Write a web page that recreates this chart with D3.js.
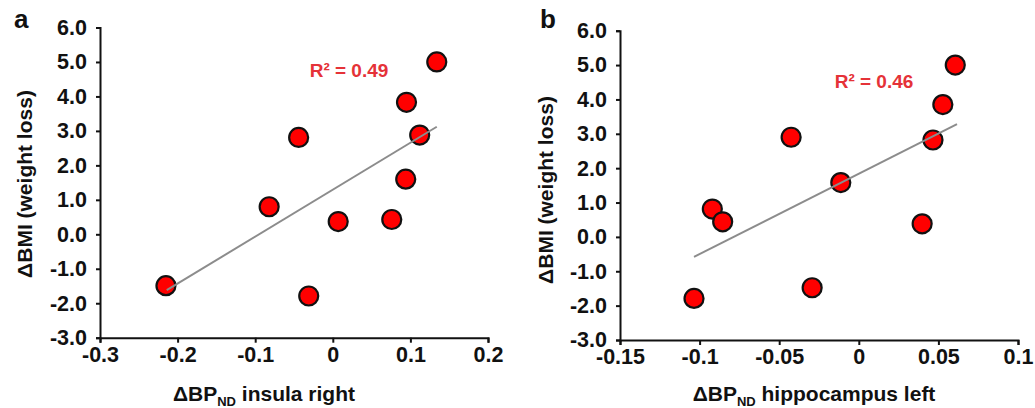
<!DOCTYPE html>
<html>
  <head>
    <meta charset="utf-8">
    <title>BMI change vs BP_ND</title>
    <script src="https://d3js.org/d3.v7.min.js"></script>
    <style>
      body { margin: 0; background: #fff; }
      svg { display: block; font-family: "Liberation Sans", Arial, sans-serif; font-weight: bold; }
      .axis path, .axis line { stroke: #111; stroke-width: 2; }
      .axis text { font-size: 21.5px; font-weight: bold; fill: #111; font-family: "Liberation Sans", Arial, sans-serif; }
      .title { font-size: 21px; fill: #111; }
      .panel { font-size: 26px; fill: #111; }
      .r2 { font-size: 19px; fill: #e53238; }
      .fit { stroke: #8c8c8c; stroke-width: 2; fill: none; }
      .dot { fill: #f00; stroke: #111; stroke-width: 2.2; }
    </style>
  </head>
  <body>
    <svg id="chart" width="1035" height="408"></svg>
    <script>
      // panel a: insula right
      const xA = [-0.215, -0.082, -0.044, -0.031, 0.007, 0.076, 0.094, 0.095, 0.112, 0.134];
      const yA = [-1.49, 0.80, 2.81, -1.79, 0.37, 0.43, 1.60, 3.83, 2.88, 5.00];
      const fitXA = [-0.214, 0.134];
      const fitYA = [-1.62, 3.12];
      const xTicksA = [-0.3, -0.2, -0.1, 0, 0.1, 0.2];
      // panel b: hippocampus left
      const xB = [-0.1035, -0.092, -0.0855, -0.0425, -0.0293, -0.0113, 0.0398, 0.0466, 0.0528, 0.0606];
      const yB = [-1.79, 0.81, 0.44, 2.90, -1.48, 1.58, 0.38, 2.82, 3.85, 5.00];
      const fitXB = [-0.1035, 0.0617];
      const fitYB = [-0.58, 3.28];
      const xTicksB = [-0.15, -0.1, -0.05, 0, 0.05, 0.1];
      // shared y axis
      const yTicks = [-3, -2, -1, 0, 1, 2, 3, 4, 5, 6];
      const yLabel = "ΔBMI (weight loss)";

      const panels = [
        { tag: "a", xs: xA, ys: yA, fitX: fitXA, fitY: fitYA, xTicks: xTicksA, region: "insula right", r2: "R² = 0.49",
          left: 100, right: 488, top: 27.5, bottom: 337.7, titleX: 264, yTitleX: 25, yTitleY: 184, r2X: 349, r2Y: 70, tagX: 14 },
        { tag: "b", xs: xB, ys: yB, fitX: fitXB, fitY: fitYB, xTicks: xTicksB, region: "hippocampus left", r2: "R² = 0.46",
          left: 620, right: 1018, top: 30.7, bottom: 340, titleX: 814, yTitleX: 546, yTitleY: 190, r2X: 874, r2Y: 81, tagX: 540 }
      ];

      const chart = d3.select("#chart");

      panels.forEach(function(p) {
        const g = chart.append("g");
        const x = d3.scaleLinear()
          .domain(d3.extent(p.xTicks))
          .range([p.left, p.right]);
        const y = d3.scaleLinear()
          .domain(d3.extent(yTicks))
          .range([p.bottom, p.top]);

        g.append("g")
          .attr("class", "axis")
          .attr("transform", "translate(0," + p.bottom + ")")
          .call(d3.axisBottom(x).tickValues(p.xTicks).tickFormat(function(d) { return String(d); })
            .tickSizeOuter(0).tickSize(5).tickPadding(4));
        g.append("g")
          .attr("class", "axis")
          .attr("transform", "translate(" + p.left + ",0)")
          .call(d3.axisLeft(y).tickValues(yTicks).tickFormat(function(d) { return d.toFixed(1); })
            .tickSizeOuter(0).tickSize(4).tickPadding(9));

        // points
        g.append("g").selectAll("circle")
          .data(p.xs.map(function(d, i) { return [d, p.ys[i]]; }))
          .join("circle")
            .attr("class", "dot")
            .attr("cx", function(d) { return x(d[0]); })
            .attr("cy", function(d) { return y(d[1]); })
            .attr("r", 9.5);

        // regression line sits on top of the dots
        g.append("path")
          .attr("class", "fit")
          .attr("d", d3.line()(p.fitX.map(function(d, i) { return [x(d), y(p.fitY[i])]; })));

        g.append("text")
          .attr("class", "r2")
          .attr("x", p.r2X)
          .attr("y", p.r2Y)
          .attr("dy", "0.35em")
          .attr("text-anchor", "middle")
          .text(p.r2);

        // axis titles
        const xt = g.append("text")
          .attr("class", "title")
          .attr("x", p.titleX)
          .attr("y", 401)
          .attr("text-anchor", "middle");
        xt.append("tspan").text("ΔBP");
        xt.append("tspan").attr("font-size", "13px").attr("dy", 5).text("ND");
        xt.append("tspan").attr("dy", -5).text(" " + p.region);

        g.append("text")
          .attr("class", "title")
          .attr("transform", "translate(" + p.yTitleX + "," + p.yTitleY + ") rotate(-90)")
          .attr("dy", "0.35em")
          .attr("text-anchor", "middle")
          .text(yLabel);

        g.append("text")
          .attr("class", "panel")
          .attr("x", p.tagX)
          .attr("y", 28)
          .text(p.tag);
      });
    </script>
  </body>
</html>
